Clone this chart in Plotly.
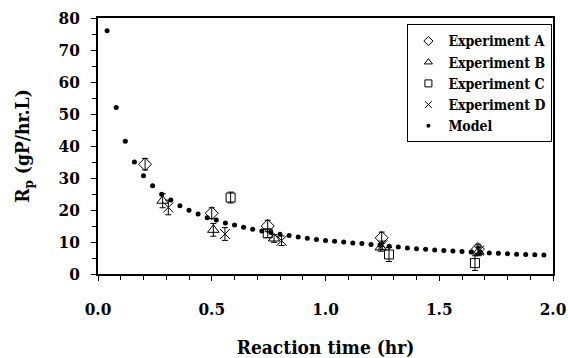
import plotly.graph_objects as go

# ---- data ----
model_x = [round(0.04 * i, 2) for i in range(1, 50)]
model_y = [76.0, 52.0, 41.5, 35.0, 30.7, 27.6, 24.9, 23.1, 21.3, 19.9,
           18.75, 17.6, 16.9, 15.9, 15.3, 14.6, 14.0, 13.4, 13.0, 12.4,
           12.0, 11.6, 11.15, 10.8, 10.5, 10.25, 10.0, 9.7, 9.5, 9.25,
           9.0, 8.7, 8.4, 8.15, 7.9, 7.7, 7.5, 7.35, 7.2, 7.05,
           6.9, 6.75, 6.6, 6.45, 6.3, 6.2, 6.1, 6.0, 5.9]

expA_x = [0.207, 0.50, 0.746, 1.247, 1.67]
expA_y = [34.3, 19.0, 15.0, 11.3, 7.8]
expA_e = [1.8, 1.7, 1.8, 1.8, 1.5]

expB_x = [0.284, 0.507, 0.774, 1.243, 1.672]
expB_y = [22.9, 13.8, 11.1, 8.3, 7.0]
expB_e = [2.2, 2.0, 1.2, 1.2, 1.3]

expC_x = [0.583, 0.746, 1.279, 1.657]
expC_y = [23.9, 12.7, 6.1, 3.4]
expC_e = [1.7, 1.3, 2.2, 2.3]

expD_x = [0.309, 0.558, 0.807, 1.25, 1.675]
expD_y = [20.8, 12.5, 10.4, 9.0, 7.3]
expD_e = [2.3, 2.0, 1.5, 1.3, 1.4]

x_ticks = [0.0, 0.5, 1.0, 1.5, 2.0]
x_tick_labels = ["0.0", "0.5", "1.0", "1.5", "2.0"]
y_ticks = [0, 10, 20, 30, 40, 50, 60, 70, 80]

FONT = "DejaVu Serif Condensed, DejaVu Serif, serif"

fig = go.Figure()

def err(e):
    return dict(type="data", array=e, visible=True, color="black",
                thickness=1, width=3)

exps = [
    ("Experiment A", expA_x, expA_y, expA_e, "diamond-open", 10),
    ("Experiment B", expB_x, expB_y, expB_e, "triangle-up-open", 10),
    ("Experiment C", expC_x, expC_y, expC_e, "square-open", 9),
    ("Experiment D", expD_x, expD_y, expD_e, "x-thin-open", 10),
]

for name, xs, ys, es, sym, sz in exps:
    fig.add_trace(go.Scatter(
        x=xs, y=ys, mode="markers", name=name, showlegend=False,
        error_y=err(es),
        marker=dict(symbol=sym, size=sz, color="black",
                    line=dict(width=1, color="black")),
    ))

fig.add_trace(go.Scatter(
    x=model_x, y=model_y, mode="markers", name="Model", showlegend=False,
    marker=dict(symbol="circle", size=5, color="black"),
))

# legend-only entries with small symbols
for name, xs, ys, es, sym, sz in exps:
    fig.add_trace(go.Scatter(
        x=[None], y=[None], mode="markers", name=name,
        marker=dict(symbol=sym, size=7, color="black",
                    line=dict(width=1, color="black")),
    ))
fig.add_trace(go.Scatter(
    x=[None], y=[None], mode="markers", name="Model",
    marker=dict(symbol="circle", size=4, color="black"),
))

axis_common = dict(
    showline=True, linecolor="black", linewidth=1.5, mirror=True,
    ticks="outside", ticklen=5, tickwidth=1, tickcolor="black",
    showgrid=False, zeroline=False, automargin=False,
    tickfont=dict(family=FONT, size=17, color="black", weight="bold"),
)

fig.update_xaxes(
    range=[0, 2], tickvals=x_ticks, ticktext=x_tick_labels,
    minor=dict(ticks="outside", ticklen=4, dtick=0.1, tickcolor="black", tickwidth=1),
    ticklabelstandoff=14,
    title=dict(text="Reaction time (hr)", standoff=32,
               font=dict(family=FONT, size=19, color="black", weight="bold")),
    **axis_common,
)
fig.update_yaxes(
    range=[0, 80], tickvals=y_ticks,
    minor=dict(ticks="outside", ticklen=4, dtick=5, tickcolor="black", tickwidth=1),
    ticklabelstandoff=8,
    title=dict(text="R<sub>p</sub> (gP/hr.L)", standoff=24,
               font=dict(family=FONT, size=19, color="black", weight="bold")),
    **axis_common,
)

fig.update_layout(
    width=568, height=358,
    margin=dict(l=98, r=15, t=18, b=84, autoexpand=False),
    plot_bgcolor="white", paper_bgcolor="white",
    font=dict(family=FONT, color="black"),
    legend=dict(
        x=0.68, y=0.975, xanchor="left", yanchor="top",
        bgcolor="white", bordercolor="black", borderwidth=1,
        font=dict(family=FONT, size=14, color="black", weight="bold"),
        itemwidth=30, tracegroupgap=0,
    ),
)

fig.write_html(
    "out.html",
    config={"displayModeBar": False},
    post_script="document.body.style.margin='0';document.body.style.padding='0';",
)
